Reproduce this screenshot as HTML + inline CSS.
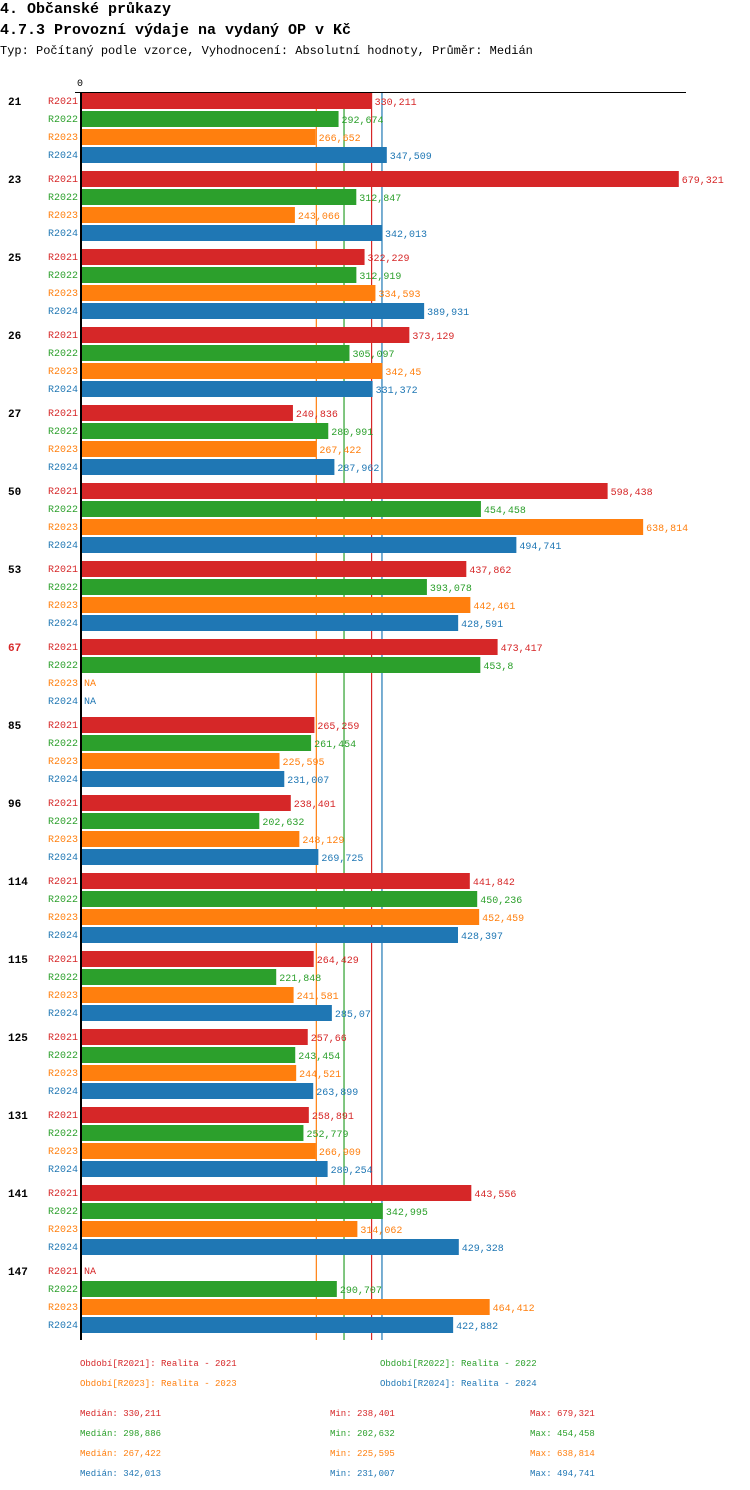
<!DOCTYPE html>
<html><head><meta charset="utf-8">
<style>
body{margin:0;background:#fff;width:750px;height:1490px;overflow:hidden;font-family:"Liberation Mono",monospace}
.t{position:absolute;white-space:nowrap}
</style></head><body>
<div class="t" style="left:0;top:1px;font-size:15px;font-weight:bold;">4. Občanské průkazy</div>
<div class="t" style="left:0;top:22px;font-size:15px;font-weight:bold;">4.7.3 Provozní výdaje na vydaný OP v Kč</div>
<div class="t" style="left:0;top:44px;font-size:12px;">Typ: Počítaný podle vzorce, Vyhodnocení: Absolutní hodnoty, Průměr: Medián</div>
<svg id="chart" width="750" height="1490" style="position:absolute;left:0;top:0" font-family="Liberation Mono, monospace"></svg>
<script>
const groups=["21","23","25","26","27","50","53","67","85","96","114","115","125","131","141","147"];
const seriesNames=["R2021","R2022","R2023","R2024"];
const colors=["#d62728","#2ca02c","#ff7f0e","#1f77b4"];
const r2021=[330211,679321,322229,373129,240836,598438,437862,473417,265259,238401,441842,264429,257660,258891,443556,null];
const r2022=[292674,312847,312919,305097,280991,454458,393078,453800,261454,202632,450236,221848,243454,252779,342995,290707];
const r2023=[266652,243066,334593,342450,267422,638814,442461,null,225595,248129,452459,241581,244521,266909,314062,464412];
const r2024=[347509,342013,389931,331372,287962,494741,428591,null,231007,269725,428397,285070,263899,280254,429328,422882];
const medians=[330211,298886,267422,342013];
const mins=[238401,202632,225595,231007];
const maxs=[679321,454458,638814,494741];
const series=[r2021,r2022,r2023,r2024];
const X0=81,K=0.00088;
const xs=v=>X0+v*K;
const svg=document.getElementById('chart');
const NS='http://www.w3.org/2000/svg';
function mk(tag,attrs,txt){const e=document.createElementNS(NS,tag);for(const k in attrs)e.setAttribute(k,attrs[k]);if(txt!=null)e.textContent=txt;svg.appendChild(e);return e;}
const fmt=v=>{let s=String(v/1000);return s.replace('.',',');};
const order=[2,1,0,3];
order.forEach(i=>{
  const l=mk('line',{x1:xs(medians[i]),x2:xs(medians[i]),y1:92,y2:1340,stroke:colors[i],'stroke-width':1.2});
  
  
});
const topAxis=mk('line',{x1:75,x2:686,y1:92.5,y2:92.5,stroke:'#000','stroke-width':1});


const zl=mk('text',{x:80,y:86,'font-size':10,'text-anchor':'middle'},'0');


groups.forEach((g,gi)=>{
  const gy=93+gi*78;
  const flagged=r2024[gi]==null;
  const gl=mk('text',{x:8,y:gy+12,'font-size':11,'font-weight':'bold',fill:flagged?'#d62728':'#000'},g);
  
  
  series.forEach((s,si)=>{
    const y=gy+si*18;
    const rl=mk('text',{x:78,y:y+11,'font-size':10,'text-anchor':'end',fill:colors[si]},seriesNames[si]);
    
    
    const v=s[gi];
    if(v==null){
      const na=mk('text',{x:84,y:y+11,'font-size':10,fill:colors[si]},'NA');
      
      
      return;
    }
    const b=mk('rect',{x:X0,y:y,width:xs(v)-X0,height:16,fill:colors[si]});
    
    
    const vl=mk('text',{x:xs(v)+3,y:y+12,'font-size':10,fill:colors[si]},fmt(v));
    
    
  });
});
const ax=mk('line',{x1:81,x2:81,y1:92,y2:1340,stroke:'#000','stroke-width':2});


const legPos=[[80,1366],[380,1366],[80,1386],[380,1386]];
seriesNames.forEach((n,i)=>{
  const t=mk('text',{x:legPos[i][0],y:legPos[i][1],'font-size':9,fill:colors[i]},'Období['+n+']: Realita - '+n.slice(1));
  
  
});
seriesNames.forEach((n,i)=>{
  const y=1416+i*20;
  const a=mk('text',{x:80,y:y,'font-size':9,fill:colors[i]},'Medián: '+fmt(medians[i]));
  
  
  const b=mk('text',{x:330,y:y,'font-size':9,fill:colors[i]},'Min: '+fmt(mins[i]));
  
  
  const c=mk('text',{x:530,y:y,'font-size':9,fill:colors[i]},'Max: '+fmt(maxs[i]));
  
  
});
</script>
</body></html>
